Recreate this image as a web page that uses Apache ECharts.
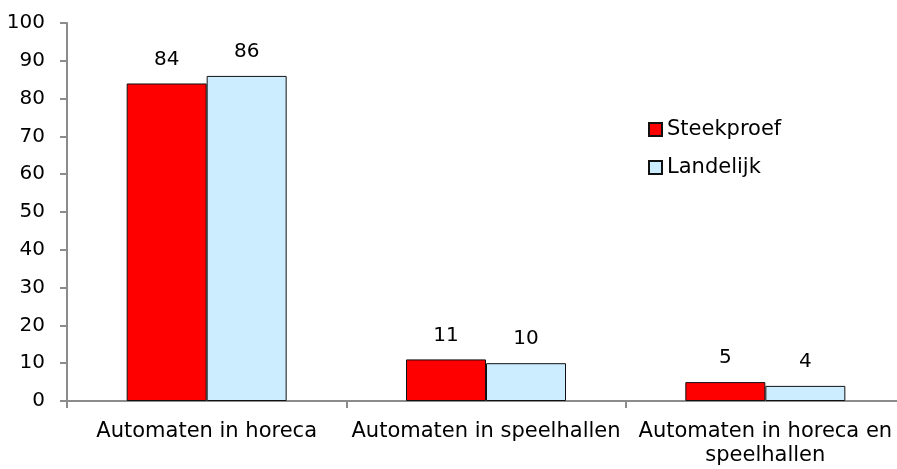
<!DOCTYPE html>
<html><head><meta charset="utf-8">
<script src="https://cdn.jsdelivr.net/npm/echarts@6/dist/echarts.min.js"></script>
<style>html,body{margin:0;padding:0;background:#fff}#c{width:897px;height:469px}</style>
</head><body><div id="c"></div>
<script>
const categories = ["Automaten in horeca", "Automaten in speelhallen", "Automaten in horeca en\nspeelhallen"];
const steekproef = [84, 11, 5];
const landelijk = [86, 10, 4];
const yTicks = {min: 0, max: 100, interval: 10};

const font = "DejaVu Sans";
const fs = 21;
const fsNum = 20;
const chart = echarts.init(document.getElementById('c'));
chart.setOption({
  animation: false,
  textStyle: {fontFamily: font},
  grid: {left: 67, top: 23, bottom: 68, width: 838, outerBoundsMode: 'none', containLabel: false},
  legend: {
    orient: 'vertical', left: 643, top: 114, itemWidth: 13, itemHeight: 13, itemGap: 17, icon: 'rect',
    textStyle: {fontSize: fs, color: '#000', fontFamily: font},
    data: ['Steekproef', 'Landelijk']
  },
  xAxis: {
    type: 'category', data: categories,
    axisLine: {lineStyle: {color: '#8c8c8c', width: 2}},
    axisTick: {show: true, length: 7, lineStyle: {color: '#8c8c8c', width: 2}},
    axisLabel: {interval: 0, fontSize: fs, color: '#000', margin: 19, lineHeight: 24, fontFamily: font}
  },
  yAxis: {
    type: 'value', min: yTicks.min, max: yTicks.max, interval: yTicks.interval,
    splitLine: {show: false},
    axisLine: {show: true, lineStyle: {color: '#8c8c8c', width: 2}},
    axisTick: {show: true, length: 7, lineStyle: {color: '#8c8c8c', width: 2}},
    axisLabel: {fontSize: fsNum, color: '#000', margin: 22, fontFamily: font}
  },
  series: [
    {name: 'Steekproef', type: 'bar', data: steekproef, barWidth: 80, barGap: '0%',
     itemStyle: {color: '#FF0000', borderColor: '#111', borderWidth: 1},
     label: {show: true, position: 'top', distance: 14, fontSize: fsNum, color: '#000', fontFamily: font}},
    {name: 'Landelijk', type: 'bar', data: landelijk, barWidth: 80,
     itemStyle: {color: '#CCECFF', borderColor: '#111', borderWidth: 1},
     label: {show: true, position: 'top', distance: 14, fontSize: fsNum, color: '#000', fontFamily: font}}
  ]
});
</script></body></html>
